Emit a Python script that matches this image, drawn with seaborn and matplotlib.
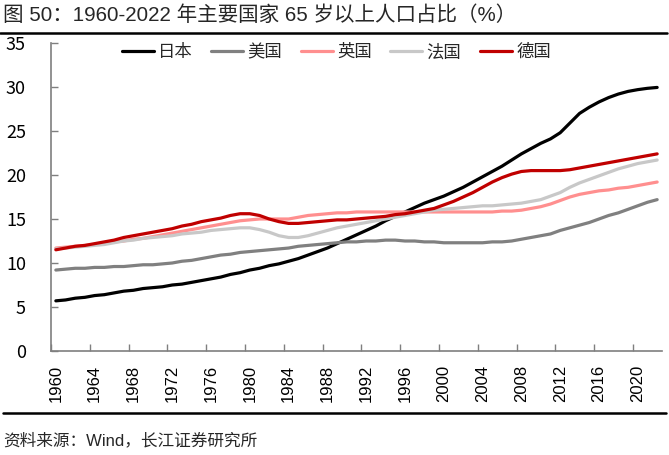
import matplotlib
matplotlib.use("Agg")
import matplotlib.pyplot as plt
import numpy as np
import pandas as pd
import seaborn as sns

YEARS = list(range(1960, 2023))

JAPAN = [
    5.7, 5.8, 6.0, 6.1, 6.3, 6.4, 6.6, 6.8, 6.9, 7.1,
    7.2, 7.3, 7.5, 7.6, 7.8, 8.0, 8.2, 8.4, 8.7, 8.9,
    9.2, 9.4, 9.7, 9.9, 10.2, 10.5, 10.9, 11.3, 11.7, 12.2,
    12.7, 13.2, 13.7, 14.2, 14.8, 15.3, 15.8, 16.3, 16.8, 17.2,
    17.6, 18.1, 18.6, 19.2, 19.8, 20.4, 21.0, 21.7, 22.4, 23.0,
    23.6, 24.1, 24.8, 25.9, 27.0, 27.7, 28.3, 28.8, 29.2, 29.5,
    29.7, 29.85, 29.95,
]
USA = [
    9.2, 9.3, 9.4, 9.4, 9.5, 9.5, 9.6, 9.6, 9.7, 9.8,
    9.8, 9.9, 10.0, 10.2, 10.3, 10.5, 10.7, 10.9, 11.0, 11.2,
    11.3, 11.4, 11.5, 11.6, 11.7, 11.9, 12.0, 12.1, 12.2, 12.3,
    12.4, 12.4, 12.5, 12.5, 12.6, 12.6, 12.5, 12.5, 12.4, 12.4,
    12.3, 12.3, 12.3, 12.3, 12.3, 12.4, 12.4, 12.5, 12.7, 12.9,
    13.1, 13.3, 13.7, 14.0, 14.3, 14.6, 15.0, 15.4, 15.7, 16.1,
    16.5, 16.9, 17.2,
]
UK = [
    11.7, 11.8, 11.9, 12.0, 12.1, 12.2, 12.4, 12.5, 12.7, 12.8,
    13.0, 13.2, 13.4, 13.6, 13.8, 14.0, 14.2, 14.4, 14.6, 14.8,
    14.9, 15.0, 15.0, 15.0, 15.0, 15.2, 15.4, 15.5, 15.6, 15.7,
    15.7, 15.8, 15.8, 15.8, 15.8, 15.8, 15.8, 15.8, 15.8, 15.8,
    15.8, 15.8, 15.8, 15.8, 15.8, 15.8, 15.9, 15.9, 16.0, 16.2,
    16.4, 16.7, 17.1, 17.5, 17.8, 18.0, 18.2, 18.3, 18.5, 18.6,
    18.8, 19.0, 19.2,
]
FRANCE = [
    11.6, 11.7, 11.8, 11.9, 12.0, 12.1, 12.3, 12.5, 12.6, 12.8,
    12.9, 13.0, 13.1, 13.3, 13.4, 13.5, 13.7, 13.8, 13.9, 14.0,
    14.0, 13.8, 13.5, 13.1, 12.9, 12.9, 13.1, 13.4, 13.7, 14.0,
    14.2, 14.4, 14.6, 14.8, 15.0, 15.2, 15.4, 15.6, 15.8, 16.0,
    16.1, 16.2, 16.3, 16.4, 16.5, 16.5, 16.6, 16.7, 16.8, 17.0,
    17.2, 17.6, 18.0, 18.6, 19.1, 19.5, 19.9, 20.3, 20.7, 21.0,
    21.3, 21.5, 21.7,
]
GERMANY = [
    11.5, 11.7, 11.9, 12.0, 12.2, 12.4, 12.6, 12.9, 13.1, 13.3,
    13.5, 13.7, 13.9, 14.2, 14.4, 14.7, 14.9, 15.1, 15.4, 15.6,
    15.6, 15.4, 15.0, 14.7, 14.5, 14.5, 14.6, 14.7, 14.8, 14.9,
    14.9, 15.0, 15.1, 15.2, 15.3, 15.5, 15.6, 15.8, 16.0, 16.2,
    16.6, 17.0, 17.5, 18.0, 18.6, 19.2, 19.7, 20.1, 20.4, 20.5,
    20.5, 20.5, 20.5, 20.6, 20.8, 21.0, 21.2, 21.4, 21.6, 21.8,
    22.0, 22.2, 22.4,
]

COUNTRIES = ["日本", "美国", "英国", "法国", "德国"]
SERIES = [JAPAN, USA, UK, FRANCE, GERMANY]
COLORS = ["#000000", "#808080", "#ff8f8f", "#c8c8c8", "#c00000"]

TITLE = "图 50：1960-2022 年主要国家 65 岁以上人口占比（%）"
SOURCE = "资料来源：Wind，长江证券研究所"
Y_TICKS = [0, 5, 10, 15, 20, 25, 30, 35]
X_LABEL_YEARS = list(range(1960, 2021, 4))

sns.set_theme(style="white")
plt.rcParams["font.family"] = ["Noto Sans CJK SC", "DejaVu Sans"]

df = pd.DataFrame(
    [(c, y, v) for c, s in zip(COUNTRIES, SERIES) for y, v in zip(YEARS, s)],
    columns=["country", "year", "value"],
)

fig = plt.figure(figsize=(6.69, 4.55), dpi=100)
ax = fig.add_axes([51 / 669, 1 - 351 / 455, 611 / 669, 308 / 455])

sns.lineplot(
    data=df, x="year", y="value", hue="country", hue_order=COUNTRIES,
    palette=dict(zip(COUNTRIES, COLORS)), linewidth=2.3, ax=ax,
)

ax.set_xlim(1959.5, 2022.5)
ax.set_ylim(0, 35)
ax.set_xlabel("")
ax.set_ylabel("")

for side in ["top", "right"]:
    ax.spines[side].set_visible(False)
for side in ["left", "bottom"]:
    ax.spines[side].set_color("#7f7f7f")
    ax.spines[side].set_linewidth(1.2)

ax.set_yticks(Y_TICKS)
ax.tick_params(axis="y", direction="in", length=5, width=1, color="#7f7f7f",
               pad=18, labelsize=13, labelcolor="black", left=True)

ax.set_xticks(np.arange(1959.5, 2020, 4))
ax.set_xticklabels([])
ax.set_xticks(X_LABEL_YEARS, minor=True)
ax.set_xticklabels([str(y) for y in X_LABEL_YEARS], minor=True, rotation=90,
                   family="Liberation Sans", fontsize=12)
ax.tick_params(axis="x", which="major", direction="in", length=5, width=1,
               color="#7f7f7f", bottom=True)
ax.tick_params(axis="x", which="minor", length=0, pad=10, labelcolor="black")

handles, labels = ax.get_legend_handles_labels()
ax.legend(handles, labels, loc="center", bbox_to_anchor=(0.467, 0.97), ncol=5,
          frameon=False, fontsize=12.5, handlelength=1.85, handletextpad=0.25,
          columnspacing=1.05, borderpad=0, borderaxespad=0)

fig.text(3 / 669, 1 - 15 / 455, TITLE, ha="left", va="center", fontsize=14.8,
         family=["Liberation Sans", "Noto Sans CJK SC"])
fig.add_artist(plt.Line2D([0, 667 / 669], [1 - 33 / 455] * 2, color="black", linewidth=1.8))
fig.add_artist(plt.Line2D([3 / 669, 666 / 669], [1 - 413 / 455] * 2, color="black", linewidth=1.8))
fig.text(3 / 669, 1 - 440 / 455, SOURCE, ha="left", va="center", fontsize=12,
         family=["Liberation Sans", "Noto Sans CJK SC"])

fig.savefig("out.png", dpi=100)
